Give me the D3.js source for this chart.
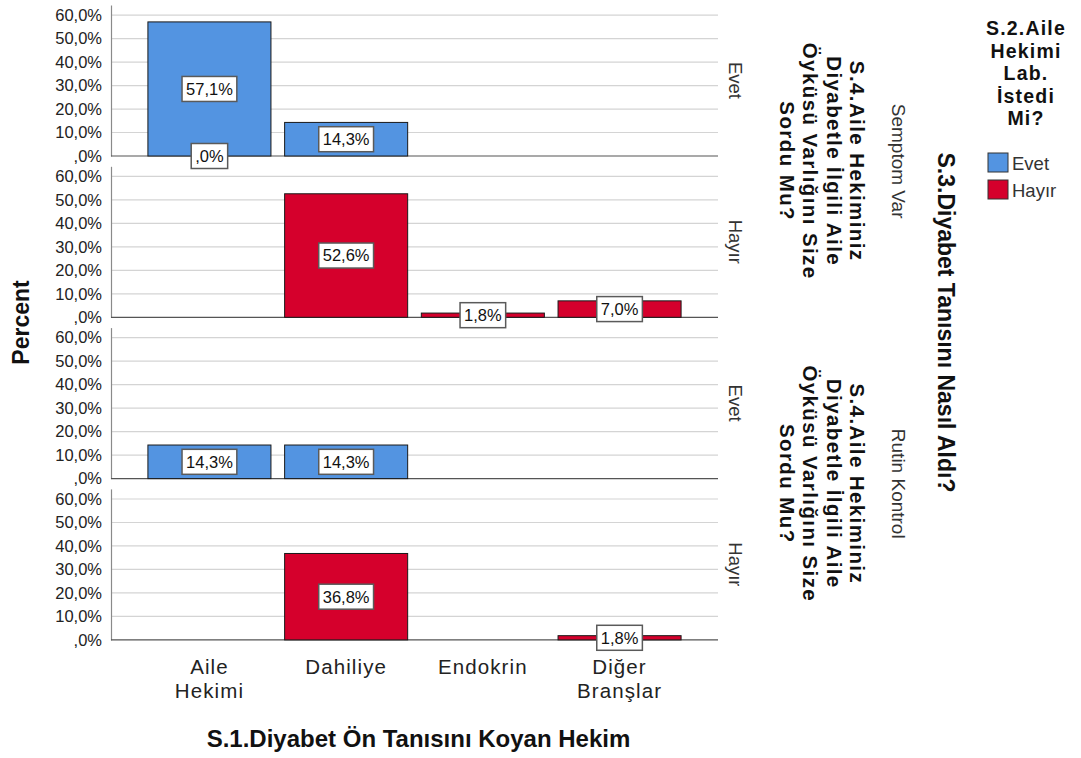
<!DOCTYPE html>
<html>
<head>
<meta charset="utf-8">
<script src="https://cdn.jsdelivr.net/npm/d3@7"></script>
<style>
html,body{margin:0;padding:0;background:#fff;}
svg{display:block;font-family:"Liberation Sans",Arial,sans-serif;}
</style>
</head>
<body>
<svg id="chart" width="1081" height="758"></svg>
<script>
// ---- data ----
const categories = ["Aile Hekimi", "Dahiliye", "Endokrin", "Diğer Branşlar"];
const categoryLines = [["Aile", "Hekimi"], ["Dahiliye"], ["Endokrin"], ["Diğer", "Branşlar"]];
const s3Groups = ["Semptom Var", "Rutin Kontrol"];
const s4Levels = ["Evet", "Hayır"];
const seriesNames = ["Evet", "Hayır"];
// panels in order: (Semptom Var, Evet), (Semptom Var, Hayır), (Rutin Kontrol, Evet), (Rutin Kontrol, Hayır)
const evetPct  = [[57.1, 14.3, null, null], [null, null, null, null], [14.3, 14.3, null, null], [null, null, null, null]];
const hayirPct = [[0, null, null, null], [null, 52.6, 1.8, 7.0], [null, null, null, null], [null, 36.8, null, 1.8]];
const yTicks = [0, 10, 20, 30, 40, 50, 60];
const xTitle = "S.1.Diyabet Ön Tanısını Koyan Hekim";
const yTitle = "Percent";
const s4Title = ["S.4.Aile Hekiminiz", "Diyabetle İlgili Aile", "Öyküsü Varlığını Size", "Sordu Mu?"];
const s3Title = "S.3.Diyabet Tanısını Nasıl Aldı?";
const legendTitle = ["S.2.Aile", "Hekimi", "Lab.", "İstedi", "Mi?"];

// ---- layout ----
const colors = {"Evet": "#5394e1", "Hayır": "#d5002c"};
const svg = d3.select("#chart");
const left = 111, right = 718;
const panelStep = 161.3, panelTop0 = 5, panelH = 151;

const x = d3.scaleBand().domain(categories).range([left, right]).paddingInner(0.1).paddingOuter(0.27);
const y = d3.scaleLinear().domain([0, 64.3]).range([panelH, 0]);
const fmt = v => v === 0 ? ",0%" : v.toFixed(1).replace(".", ",") + "%";

const panels = [];
s3Groups.forEach((g, gi) => s4Levels.forEach((l, li) => panels.push({g, l, idx: gi * 2 + li})));

panels.forEach(p => {
  const top = panelTop0 + p.idx * panelStep;
  const pg = svg.append("g").attr("transform", `translate(0,${top})`);

  // gridlines
  pg.selectAll("line.grid").data(yTicks.filter(t => t > 0)).join("line")
    .attr("x1", left).attr("x2", right)
    .attr("y1", d => y(d)).attr("y2", d => y(d))
    .attr("stroke", "#d4d4d4").attr("stroke-width", 1.2);

  // y axis
  const ax = pg.append("g").attr("transform", `translate(${left},0)`)
    .call(d3.axisLeft(y).tickValues(yTicks).tickFormat(fmt).tickSize(0).tickPadding(9));
  ax.select(".domain").attr("stroke", "#8a8a8a").attr("stroke-width", 1.2);
  ax.selectAll("text").attr("font-size", 16.5).attr("fill", "#222")
    .attr("font-family", "'Liberation Sans',Arial,sans-serif");

  // bars (stacked: Hayır at base, Evet above)
  const rows = categories.map((c, ci) => ({c, h: hayirPct[p.idx][ci], e: evetPct[p.idx][ci]}));
  const segs = [];
  rows.forEach(r => {
    let base = 0;
    if (r.h !== null) { segs.push({c: r.c, s: "Hayır", v: r.h, y0: base, y1: base + r.h}); base += r.h; }
    if (r.e !== null) { segs.push({c: r.c, s: "Evet", v: r.e, y0: base, y1: base + r.e}); base += r.e; }
  });

  // baseline
  pg.append("line").attr("x1", left).attr("x2", right)
    .attr("y1", y(0)).attr("y2", y(0)).attr("stroke", "#555").attr("stroke-width", 1.2);

  pg.selectAll("rect.bar").data(segs).join("rect")
    .attr("x", d => x(d.c)).attr("width", x.bandwidth())
    .attr("y", d => y(d.y1)).attr("height", d => Math.max(0, y(d.y0) - y(d.y1)))
    .attr("fill", d => colors[d.s]).attr("stroke", "#1a1a1a").attr("stroke-width", d => d.v === 0 ? 2 : 1);

  // labels
  segs.forEach(d => {
    const cx = x(d.c) + x.bandwidth() / 2;
    const cy = (y(d.y0) + y(d.y1)) / 2;
    const lg = pg.append("g");
    const rect = lg.append("rect");
    const t = lg.append("text").attr("x", cx).attr("y", cy).attr("dy", "0.36em")
      .attr("text-anchor", "middle").attr("font-size", 16.5).attr("fill", "#111").text(fmt(d.v));
    const w = t.node().getComputedTextLength();
    rect.attr("x", cx - w / 2 - 4).attr("y", cy - 12.5).attr("width", w + 8).attr("height", 25)
      .attr("fill", "#fff").attr("stroke", "#5a5a5a").attr("stroke-width", 1.5);
  });

  // s4 label per panel
  const cy = panelH / 2;
  pg.append("text").attr("transform", `translate(729,${cy}) rotate(90)`)
    .attr("text-anchor", "middle").attr("font-size", 18.5).attr("fill", "#333").text(p.l);
});

// s3 group labels and S.4 titles
s3Groups.forEach((g, gi) => {
  const top = panelTop0 + gi * 2 * panelStep;
  const cy = top + (panelStep + panelH) / 2;
  svg.append("text").attr("transform", `translate(892,${cy}) rotate(90)`)
    .attr("text-anchor", "middle").attr("font-size", 19).attr("fill", "#333").text(g);
  const t = svg.append("text").attr("transform", `translate(815,${cy}) rotate(90)`)
    .attr("text-anchor", "middle").attr("font-size", 20.5).attr("letter-spacing", 1.4)
    .attr("font-weight", "bold").attr("fill", "#111");
  const n = s4Title.length;
  s4Title.forEach((line, i) => {
    t.append("tspan").attr("x", 0).attr("y", (i - (n - 1) / 2) * 23.5).text(line);
  });
});

// S.3 title
const plotMid = panelTop0 + (3 * panelStep + panelH) / 2;
svg.append("text").attr("transform", `translate(938,${plotMid}) rotate(90)`)
  .attr("text-anchor", "middle").attr("font-size", 23).attr("font-weight", "bold").attr("fill", "#111").text(s3Title);

// y title
svg.append("text").attr("transform", `translate(29,${plotMid}) rotate(-90)`)
  .attr("text-anchor", "middle").attr("font-size", 23).attr("font-weight", "bold").attr("fill", "#111").text(yTitle);

// x tick labels
const xl = svg.append("g");
categories.forEach((c, ci) => {
  const t = xl.append("text").attr("text-anchor", "middle").attr("font-size", 20.5)
    .attr("letter-spacing", 1.1).attr("fill", "#222");
  categoryLines[ci].forEach((line, i) => {
    t.append("tspan").attr("x", x(c) + x.bandwidth() / 2).attr("y", 674 + i * 24).text(line);
  });
});

// x title
svg.append("text").attr("x", (left + right) / 2 + 4).attr("y", 747)
  .attr("text-anchor", "middle").attr("font-size", 24).attr("font-weight", "bold").attr("fill", "#111").text(xTitle);

// legend
const lgT = svg.append("text").attr("text-anchor", "middle").attr("font-size", 19.5)
  .attr("letter-spacing", 1.2).attr("font-weight", "bold").attr("fill", "#111");
legendTitle.forEach((line, i) => lgT.append("tspan").attr("x", 1026).attr("y", 35 + i * 22.5).text(line));
seriesNames.forEach((s, i) => {
  const yy = 153 + i * 27;
  svg.append("rect").attr("x", 988).attr("y", yy).attr("width", 20).attr("height", 19)
    .attr("fill", colors[s]).attr("stroke", "#333").attr("stroke-width", 1);
  svg.append("text").attr("x", 1012).attr("y", yy + 10).attr("dy", "0.36em")
    .attr("font-size", 18.5).attr("fill", "#333").text(s);
});
</script>
</body>
</html>
